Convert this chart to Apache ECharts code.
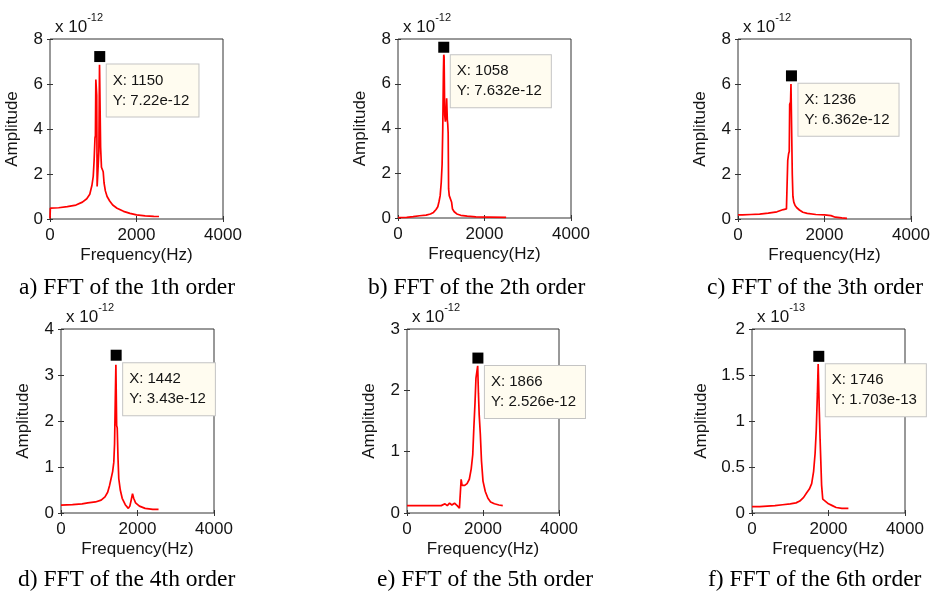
<!DOCTYPE html>
<html>
<head>
<meta charset="utf-8">
<script src="https://cdn.jsdelivr.net/npm/echarts@6/dist/echarts.min.js"></script>
<style>
  html, body { margin: 0; padding: 0; background: #fff; }
  #chart { width: 937px; height: 592px; }
</style>
</head>
<body>
<div id="chart"></div>
<script>
// spectra, amplitude given in units of the axis multiplier (x 10^exp)
const freq1 = [0, 8, 200, 400, 600, 750, 850, 920, 970, 1000, 1020, 1040, 1050, 1060, 1070, 1080, 1090, 1110, 1130, 1145, 1155, 1170, 1190, 1210, 1230, 1250, 1280, 1320, 1380, 1450, 1550, 1700, 1850, 2000, 2200, 2400, 2520];
const amp1  = [0.02, 0.48, 0.5, 0.55, 0.62, 0.75, 0.9, 1.1, 1.5, 1.9, 2.6, 3.6, 3.7, 6.2, 6.25, 5.5, 1.45, 1.4, 3.0, 6.85, 6.9, 3.2, 2.3, 2.2, 2.1, 1.6, 1.25, 1.0, 0.8, 0.62, 0.48, 0.34, 0.25, 0.18, 0.14, 0.12, 0.11];

const freq2 = [0, 200, 350, 500, 650, 750, 820, 880, 920, 950, 975, 1000, 1020, 1035, 1050, 1058, 1066, 1080, 1095, 1110, 1125, 1140, 1150, 1160, 1170, 1185, 1200, 1220, 1240, 1260, 1300, 1360, 1450, 1600, 1800, 2100, 2500];
const amp2  = [0.02, 0.03, 0.06, 0.1, 0.13, 0.18, 0.25, 0.38, 0.5, 0.75, 1.0, 1.6, 2.4, 4.0, 6.5, 7.3, 7.2, 4.6, 4.3, 4.6, 5.35, 4.4, 4.2, 3.8, 1.3, 1.0, 0.95, 0.95, 0.7, 0.4, 0.28, 0.18, 0.12, 0.08, 0.05, 0.04, 0.03];

const freq3 = [0, 100, 300, 500, 700, 900, 1050, 1120, 1140, 1150, 1170, 1185, 1195, 1215, 1225, 1240, 1255, 1270, 1290, 1320, 1360, 1420, 1500, 1600, 1800, 2000, 2150, 2250, 2400, 2520];
const amp3  = [0.18, 0.18, 0.2, 0.22, 0.26, 0.32, 0.42, 0.45, 0.45, 2.6, 2.9, 3.0, 5.1, 5.2, 6.0, 6.0, 2.0, 1.0, 0.75, 0.6, 0.5, 0.4, 0.3, 0.25, 0.2, 0.18, 0.15, 0.08, 0.05, 0.03];

const freq4 = [0, 300, 550, 700, 900, 1050, 1150, 1220, 1270, 1310, 1350, 1380, 1400, 1420, 1435, 1448, 1455, 1470, 1490, 1510, 1550, 1600, 1680, 1760, 1800, 1840, 1870, 1900, 1950, 2050, 2200, 2400, 2550];
const amp4  = [0.17, 0.18, 0.2, 0.22, 0.24, 0.28, 0.35, 0.45, 0.6, 0.75, 0.9, 1.1, 1.5, 2.5, 3.22, 3.2, 1.9, 1.85, 1.2, 0.75, 0.5, 0.32, 0.18, 0.1, 0.15, 0.3, 0.42, 0.32, 0.22, 0.15, 0.1, 0.08, 0.08];

const freq5 = [0, 300, 600, 900, 1000, 1060, 1120, 1180, 1250, 1320, 1380, 1410, 1425, 1450, 1480, 1520, 1580, 1640, 1690, 1730, 1760, 1790, 1815, 1840, 1860, 1870, 1880, 1900, 1930, 1960, 2000, 2060, 2130, 2200, 2300, 2420, 2520];
const amp5  = [0.12, 0.12, 0.12, 0.12, 0.15, 0.12, 0.16, 0.13, 0.16, 0.12, 0.08, 0.1, 0.55, 0.45, 0.43, 0.45, 0.48, 0.55, 0.72, 0.95, 1.4, 1.8, 2.2, 2.2, 2.4, 2.38, 1.95, 1.6, 1.28, 0.85, 0.52, 0.35, 0.24, 0.18, 0.15, 0.13, 0.12];

const freq6 = [0, 200, 400, 600, 800, 1000, 1150, 1250, 1350, 1430, 1500, 1560, 1610, 1650, 1680, 1710, 1730, 1745, 1760, 1780, 1800, 1820, 1850, 1900, 2000, 2100, 2200, 2350, 2520];
const amp6  = [0.07, 0.07, 0.075, 0.08, 0.09, 0.1, 0.11, 0.13, 0.17, 0.22, 0.26, 0.32, 0.45, 0.65, 0.9, 1.3, 1.62, 1.6, 1.1, 0.8, 0.55, 0.3, 0.15, 0.13, 0.1, 0.08, 0.06, 0.05, 0.05];

const freqs = [freq1, freq2, freq3, freq4, freq5, freq6];
const amps = [amp1, amp2, amp3, amp4, amp5, amp6];

const yMax = [8, 8, 8, 4, 3, 2];
const yStep = [2, 2, 2, 1, 1, 0.5];
const xMax = 4000;
const xStep = 2000;
const exponents = ['-12', '-12', '-12', '-12', '-12', '-13'];

// data tips
const tipX = [1150, 1058, 1236, 1442, 1866, 1746];
const tipY = [7.22, 7.632, 6.362, 3.43, 2.526, 1.703];
const tipYText = ['7.22e-12', '7.632e-12', '6.362e-12', '3.43e-12', '2.526e-12', '1.703e-13'];

const captions = [
  'a) FFT of the 1th order', 'b) FFT of the 2th order', 'c) FFT of the 3th order',
  'd) FFT of the 4th order', 'e) FFT of the 5th order', 'f) FFT of the 6th order'
];

// layout
const boxes = [
  { left: 50, top: 39, width: 173, height: 180 },
  { left: 398, top: 39, width: 173, height: 179 },
  { left: 738, top: 39, width: 173, height: 180 },
  { left: 61, top: 329, width: 153, height: 184 },
  { left: 407, top: 329, width: 152, height: 184 },
  { left: 752, top: 329, width: 153, height: 184 }
];
const yNameGap = [29, 29, 29, 29, 29, 42];
const captionPos = [[14, 271], [363, 271], [702, 271], [13, 563], [372, 563], [703, 563]];

const sans = 'Arial, "Liberation Sans", sans-serif';
const serif = '"Times New Roman", "Liberation Serif", serif';
const ink = '#141414';

const chart = echarts.init(document.getElementById('chart'));

let grid = [], xAxis = [], yAxis = [], series = [], title = [];

boxes.forEach(function (b, i) {
  grid.push({ left: b.left, top: b.top, width: b.width, height: b.height, show: true, borderColor: '#333', borderWidth: 1, backgroundColor: '#fff' });

  let tick = { show: true, inside: true, length: 3, lineStyle: { color: '#333' } };
  xAxis.push({
    gridIndex: i, type: 'value', min: 0, max: xMax, interval: xStep,
    name: 'Frequency(Hz)', nameLocation: 'middle', nameGap: 28,
    nameTextStyle: { fontFamily: sans, fontSize: 17, color: ink },
    axisLine: { show: false }, axisTick: tick, splitLine: { show: false },
    axisLabel: { margin: 8, fontFamily: sans, fontSize: 17, color: ink, formatter: v => String(v) }
  });
  xAxis.push({
    gridIndex: i, type: 'value', position: 'top', min: 0, max: xMax, interval: xStep,
    axisLine: { show: false }, axisTick: tick, splitLine: { show: false }, axisLabel: { show: false }
  });
  yAxis.push({
    gridIndex: i, type: 'value', min: 0, max: yMax[i], interval: yStep[i],
    name: 'Amplitude', nameLocation: 'middle', nameGap: yNameGap[i], nameRotate: 90,
    nameTextStyle: { fontFamily: sans, fontSize: 17, color: ink },
    axisLine: { show: false }, axisTick: tick, splitLine: { show: false },
    axisLabel: { margin: 7, fontFamily: sans, fontSize: 17, color: ink }
  });
  yAxis.push({
    gridIndex: i, type: 'value', position: 'right', min: 0, max: yMax[i], interval: yStep[i],
    axisLine: { show: false }, axisTick: tick, splitLine: { show: false }, axisLabel: { show: false }
  });

  series.push({
    type: 'line',
    xAxisIndex: 2 * i,
    yAxisIndex: 2 * i,
    data: freqs[i].map((f, k) => [f, amps[i][k]]),
    showSymbol: false,
    lineStyle: { color: '#ff0000', width: 1.7 },
    silent: true,
    markPoint: {
      symbol: 'rect',
      symbolSize: 11,
      silent: true,
      itemStyle: { color: '#000' },
      data: [{ coord: [tipX[i], tipY[i]] }],
      label: {
        show: true,
        position: [12.5, 13.5],
        align: 'left',
        verticalAlign: 'top',
        formatter: 'X: ' + tipX[i] + '\nY: ' + tipYText[i],
        fontFamily: sans,
        fontSize: 15,
        lineHeight: 20,
        color: ink,
        backgroundColor: '#fffcf0',
        borderColor: '#c4c4c4',
        borderWidth: 1,
        padding: [6, 9, 6, 6]
      }
    }
  });

  title.push({
    left: b.left, top: b.top - 32,
    text: '{b|x 10}{s|' + exponents[i] + '}',
    textStyle: {
      fontWeight: 'normal',
      rich: {
        b: { fontFamily: sans, fontSize: 17, fontWeight: 'normal', color: ink, lineHeight: 24, verticalAlign: 'bottom' },
        s: { fontFamily: sans, fontSize: 11, fontWeight: 'normal', color: ink, lineHeight: 12, verticalAlign: 'top' }
      }
    }
  });
  title.push({
    left: captionPos[i][0], top: captionPos[i][1],
    text: captions[i],
    textStyle: { fontFamily: serif, fontSize: 23.5, fontWeight: 'normal', color: '#000' }
  });
});

chart.setOption({
  animation: false,
  backgroundColor: '#fff',
  title: title,
  grid: grid,
  xAxis: xAxis,
  yAxis: yAxis,
  series: series
});
</script>
</body>
</html>
